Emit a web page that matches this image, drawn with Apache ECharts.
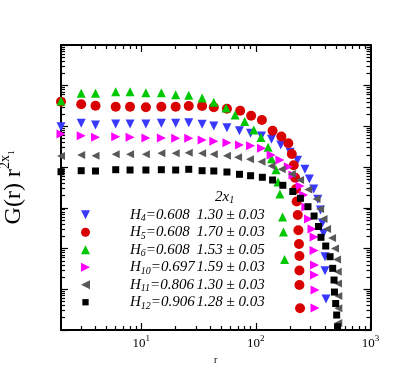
<!DOCTYPE html>
<html><head><meta charset="utf-8">
<script src="https://cdn.jsdelivr.net/npm/echarts@6/dist/echarts.min.js"></script>
<style>html,body{margin:0;padding:0;background:#fff}#c{width:415px;height:370px}</style>
</head><body><div id="c"></div>
<script>
// ---------- data ----------
const seriesNames = ['H4', 'H5', 'H6', 'H10', 'H11', 'H12'];
const hSubs = ['4', '5', '6', '10', '11', '12'];
const hVals = ['0.608', '0.608', '0.608', '0.697', '0.806', '0.906'];
const expVals = ['1.30 ± 0.03', '1.70 ± 0.03', '1.53 ± 0.05', '1.59 ± 0.03', '1.30 ± 0.03', '1.28 ± 0.03'];

const r_H4 = [2,3,4,6,8,11,15,20,26,34,43,56,72,90,112,137,165,199,231,268,293,320,347,366,381,389,401,401,409];
const g_H4 = [0.00984,0.01193,0.01083,0.01147,0.01147,0.01147,0.01193,0.01193,0.01234,0.01127,0.01024,0.00930,0.00785,0.00678,0.00582,0.00483,0.00350,0.00231,0.001472,0.000889,0.000511,0.000290,0.000162,8.85e-5,4.24e-5,2.37e-5,6.31e-6,2.86e-6,5.76e-7];

const r_H5 = [2,3,4,6,8,11,15,20,26,34,43,56,73,91,113,140,167,192,206,214,220,224,227,232,235,238,240,240,240,243];
const g_H5 = [0.0405,0.0349,0.0323,0.0305,0.0305,0.0295,0.0305,0.0305,0.0317,0.0317,0.0295,0.0272,0.0243,0.0183,0.01438,0.00785,0.00566,0.00385,0.00210,0.001115,0.000547,0.000290,0.000143,6.67e-5,2.81e-5,1.29e-5,6.56e-6,2.89e-6,1.27e-6,3.41e-7];

const r_H6 = [2,3,4,6,8,11,15,20,26,34,43,55,66,80,96,111,128,137,150,156,162,171,174,178];
const g_H6 = [0.0421,0.0651,0.0651,0.0713,0.0713,0.0673,0.0673,0.0601,0.0581,0.0499,0.0391,0.0283,0.0191,0.0132,0.00817,0.00534,0.00307,0.00160,0.000865,0.000431,0.000219,5.96e-5,2.55e-5,5.38e-6];

const r_H10 = [2,3,4,6,8,11,15,20,26,34,43,56,72,90,112,136,162,192,211,243,261,273,288,309,322,322,325,325,328,328];
const g_H10 = [0.00651,0.00592,0.00540,0.00559,0.00540,0.00519,0.00519,0.00511,0.00511,0.00464,0.00431,0.00398,0.00350,0.00336,0.00290,0.00199,0.001497,0.001025,0.000641,0.000344,0.000207,0.000105,5.32e-5,3.02e-5,1.92e-5,8.96e-6,3.94e-6,2.24e-6,9.59e-7,3.46e-7];

const r_H11 = [2,3,4,6,8,11,15,20,26,34,43,56,70,89,112,137,168,206,243,287,338,363,389,418,462,490,511,518,521,524,524,524];
const g_H11 = [0.001877,0.001986,0.001909,0.002066,0.002066,0.002066,0.002186,0.002186,0.002262,0.002186,0.002066,0.001909,0.001744,0.001557,0.001359,0.001066,0.000885,0.000678,0.000483,0.000282,0.000165,9.37e-5,5.32e-5,3.02e-5,1.82e-5,1.003e-5,5.38e-6,2.70e-6,1.385e-6,6.83e-7,3.41e-7,1.483e-7];

const r_H12 = [2,3,4,6,8,11,15,20,26,34,43,56,72,90,114,140,172,210,245,285,322,352,370,407,444,468,481,485,497,507,516];
const g_H12 = [0.000772,0.000818,0.000804,0.000865,0.000850,0.000850,0.000865,0.000850,0.000885,0.000818,0.000804,0.000759,0.000667,0.000616,0.000563,0.000483,0.000358,0.000252,0.0001716,0.0001067,6.30e-5,3.48e-5,1.89e-5,1.155e-5,6.31e-6,3.27e-6,1.689e-6,8.56e-7,4.47e-7,2.33e-7,1.203e-7];

const xMajorTicks = [10, 100, 1000];
const yMajorTicks = [1e-7, 1e-6, 1e-5, 1e-4, 1e-3, 1e-2, 1e-1, 1];
const xMin = 2, xMax = 1000, yMin = 1e-7, yMax = 1;

// ---------- styling ----------
const SERIF = '"Liberation Serif","DejaVu Serif",serif';
const allR = [r_H4, r_H5, r_H6, r_H10, r_H11, r_H12];
const allG = [g_H4, g_H5, g_H6, g_H10, g_H11, g_H12];
const colors = ['#3838ff', '#d80000', '#00c800', '#ff00ff', '#585858', '#000000'];
const symbols = ['triangle', 'circle', 'triangle', 'triangle', 'triangle', 'rect'];
const rotates = [180, 0, 0, -90, 90, 0];
const sizes = [9, 10, 9, 9, 8, 7];
const legendIcons = [
  'path://M0,0L10,0L5,10Z',
  'circle',
  'path://M5,0L10,10L0,10Z',
  'path://M0,0L10,5L0,10Z',
  'path://M10,0L0,5L10,10Z',
  'path://M0,0M10,10M1.5,1.5L8.5,1.5L8.5,8.5L1.5,8.5Z'
];

function minorBetween(lo, hi) {
  const out = [];
  for (let e = -8; e <= 3; e++) for (let k = 2; k <= 9; k++) {
    const v = k * Math.pow(10, e);
    if (v > lo * 1.0001 && v < hi * 0.9999) out.push(v);
  }
  return out;
}
const xMinorTicks = minorBetween(xMin, xMax);
const yMinorTicks = minorBetween(yMin, yMax);

const ctx = document.createElement('canvas').getContext('2d');
function tw(text, font) { ctx.font = font; return ctx.measureText(text).width; }
const COL1 = 66.5;
const legendRich = {
  p: { width: 35, fontSize: 15, lineHeight: 17.5 },
  h: { fontFamily: SERIF, fontStyle: 'italic', fontSize: 15, lineHeight: 17.5, color: '#000' },
  s: { fontFamily: SERIF, fontStyle: 'italic', fontSize: 10, lineHeight: 10, verticalAlign: 'bottom', color: '#000' },
  n: { fontFamily: SERIF, fontStyle: 'italic', fontSize: 15, lineHeight: 17.5, color: '#000' }
};
const hW = tw('H', 'italic 15px ' + SERIF);
hSubs.forEach((s, i) => {
  legendRich['v' + i] = { fontFamily: SERIF, fontStyle: 'italic', fontSize: 15, lineHeight: 17.5, color: '#000',
    width: COL1 - hW - tw(s, 'italic 10px ' + SERIF) };
});

function xAxis(pos, major) {
  return {
    type: 'log', logBase: 10, min: xMin, max: xMax, position: pos,
    axisLine: { show: major, onZero: false, lineStyle: { color: '#000', width: 2 } },
    axisTick: { show: true, inside: true, length: major ? 7 : 4, lineStyle: { color: '#000', width: 1.2 },
      customValues: major ? xMajorTicks : xMinorTicks },
    axisLabel: { show: major && pos === 'bottom', customValues: xMajorTicks, margin: 4,
      formatter: v => '{b|10}{s|' + Math.round(Math.log10(v)) + '}',
      rich: { b: { fontFamily: SERIF, fontSize: 13, lineHeight: 20, color: '#000' },
              s: { fontFamily: SERIF, fontSize: 9, lineHeight: 9, verticalAlign: 'top', color: '#000' } } },
    splitLine: { show: false },
    name: (major && pos === 'bottom') ? 'r' : '', nameLocation: 'middle', nameGap: 20,
    nameTextStyle: { fontFamily: SERIF, fontSize: 10, color: '#000' }
  };
}
function yAxis(pos, major) {
  return {
    type: 'log', logBase: 10, min: yMin, max: yMax, position: pos,
    axisLine: { show: major, onZero: false, lineStyle: { color: '#000', width: 2 } },
    axisTick: { show: true, inside: true, length: major ? 7 : 4, lineStyle: { color: '#000', width: 1.2 },
      customValues: major ? yMajorTicks : yMinorTicks },
    axisLabel: { show: false },
    splitLine: { show: false },
    name: (major && pos === 'left') ? '{m|G(r) r}{p|2x}{q|1}' : '', nameLocation: 'middle', nameGap: 31, nameRotate: 90,
    nameTextStyle: { fontFamily: SERIF, color: '#000', rich: {
      m: { fontFamily: SERIF, fontSize: 24, lineHeight: 32, color: '#000' },
      p: { fontFamily: SERIF, fontSize: 14, lineHeight: 16, verticalAlign: 'top', color: '#000' },
      q: { fontFamily: SERIF, fontSize: 9, lineHeight: 10, verticalAlign: 'top', padding: [9, 0, 0, 0], color: '#000' } } }
  };
}

const option = {
  animation: false,
  backgroundColor: '#fff',
  grid: { left: 61, right: 44.5, top: 45, bottom: 40, containLabel: false, outerBoundsMode: 'none' },
  xAxis: [xAxis('bottom', true), xAxis('bottom', false), xAxis('top', true), xAxis('top', false)],
  yAxis: [yAxis('left', true), yAxis('left', false), yAxis('right', true), yAxis('right', false)],
  title: { text: '{a|2x}{b|1}', left: 215, top: 188, padding: 0,
    textStyle: { fontWeight: 'normal', rich: {
      a: { fontFamily: SERIF, fontStyle: 'italic', fontWeight: 'normal', fontSize: 15, lineHeight: 17.5, color: '#000' },
      b: { fontFamily: SERIF, fontStyle: 'italic', fontWeight: 'normal', fontSize: 10, lineHeight: 10, verticalAlign: 'bottom', color: '#000' } } } },
  legend: {
    orient: 'vertical', left: 81, top: 206, itemWidth: 9, itemHeight: 9, itemGap: 0, padding: 0,
    data: seriesNames.map((nm, i) => ({ name: nm, icon: legendIcons[i] })),
    selectedMode: false,
    formatter: name => {
      const i = seriesNames.indexOf(name);
      return '{p| }{h|H}{s|' + hSubs[i] + '}{v' + i + '|=' + hVals[i] + '}{n|' + expVals[i] + '}';
    },
    textStyle: { rich: legendRich, lineHeight: 17.5 }
  },
  series: seriesNames.map((nm, i) => ({
    name: nm, type: 'scatter', xAxisIndex: 0, yAxisIndex: 0, clip: false,
    symbol: symbols[i], symbolRotate: rotates[i], symbolSize: sizes[i],
    itemStyle: { color: colors[i], opacity: 1 },
    data: allR[i].map((r, j) => [r, allG[i][j]])
  }))
};
const chart = echarts.init(document.getElementById('c'), null, { renderer: 'canvas' });
chart.setOption(option);
</script></body></html>
